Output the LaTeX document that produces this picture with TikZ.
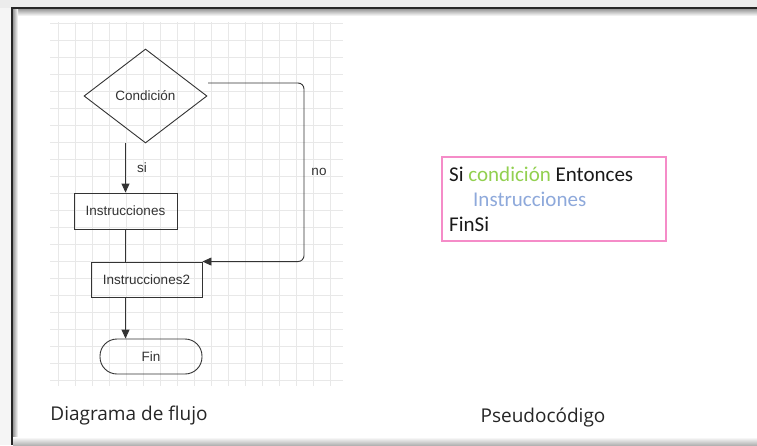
\documentclass[tikz,border=0pt]{standalone}
\usepackage{fontspec}
\usepackage{tikz}
\usetikzlibrary{shapes.geometric,arrows.meta}
\newfontfamily\flowfont{Liberation Sans}
\newfontfamily\pseudofont{Carlito}
\newfontfamily\capfont{Open Sans}
\definecolor{flowline}{RGB}{51,51,51}
\definecolor{gridgray}{RGB}{232,232,232}
\definecolor{condgreen}{RGB}{146,208,80}
\definecolor{insblue}{RGB}{142,169,219}
\definecolor{framepink}{RGB}{245,140,200}
\definecolor{topgray}{RGB}{236,236,236}

\begin{document}
\begin{tikzpicture}[x=1pt,y=-1pt,
	flowtext/.style={font=\flowfont\fontsize{13.5}{16}\selectfont,text=flowline,inner sep=0pt},
	flowbox/.style={flowtext,draw=flowline,line width=0.9pt},
	flowarrow/.style={draw=flowline,line width=0.9pt,-{Stealth[length=9pt,width=8pt,inset=0pt]}},
	gridline/.style={gridgray,line width=0.8pt},
	pseudo/.style={font=\pseudofont\fontsize{21}{25}\selectfont,inner sep=0pt,anchor=west,text=black!90},
	caption/.style={font=\capfont\fontsize{19}{22}\selectfont,text=black!85}]
	\useasboundingbox (0,0) rectangle (757,445);
	
	%screenshot frame
	\fill[topgray] (0,0) rectangle (757,8);
	\fill[black!4] (0,8) rectangle (12,445);
	\fill[white] (12,8) rectangle (757,445);
	\shade[top color=black!40,bottom color=white] (12,9) rectangle (757,16);
	\shade[left color=black!40,right color=white] (13,9) rectangle (18,445);
	\shade[top color=white,bottom color=black!30] (13,437) rectangle (757,445);
	\draw[line width=2pt,black!85] (757,8)--(12,8)--(12,445);
	
	%grid
	%vertical
	\foreach \x in {0,...,16}
	{\draw[gridline] ({58.3+17*\x},22)--({58.3+17*\x},386);}
	%horizontal
	\foreach \y in {0,...,21}
	{\draw[gridline] (50,{23.3+17*\y})--(343,{23.3+17*\y});}
	
	%flow chart
	\node[flowbox,diamond,minimum width=123pt,minimum height=94pt] (cond) at (145.5,96) {Condición};
	\node[flowbox,minimum width=103pt,minimum height=36pt] (ins) at (125.5,211) {Instrucciones};
	\node[flowbox,minimum width=111pt,minimum height=35pt] (ins2) at (146.5,279.5) {Instrucciones2};
	\node[flowbox,rounded corners=17pt,minimum width=102pt,minimum height=35pt] (fin) at (151,356.5) {Fin};
	\node[flowtext] (si) at (142,168) {si};
	\node[flowtext] (no) at (319,172) {no};
	\coordinate (nostart) at (208,83);
	\coordinate (nobend) at (304,83);
	
	\draw[flowarrow] (cond.south -| ins.north)--(ins.north);
	\draw[flowline,line width=0.9pt] (ins.south)--(ins.south |- ins2.north);
	\draw[flowarrow] (ins2.south -| ins.south)--(fin.north -| ins.south);
	\draw[flowarrow,rounded corners=6pt] (nostart)--(nobend) |- (ins2.north east);
	
	%pseudocode
	\node[draw=framepink,line width=1.6pt,minimum width=224pt,minimum height=84pt] (pseudobox) at (554,199) {};
	\node[pseudo] (siline) at (449,174) {Si \textcolor{condgreen}{condición} Entonces};
	\node[pseudo,text=insblue] (insline) at (473,199) {Instrucciones};
	\node[pseudo] (finline) at (449,224) {FinSi};
	
	%captions
	\node[caption] (flowcap) at (129,416) {Diagrama de flujo};
	\node[caption] (pseudocap) at (543,417) {Pseudocódigo};
\end{tikzpicture}
\end{document}
